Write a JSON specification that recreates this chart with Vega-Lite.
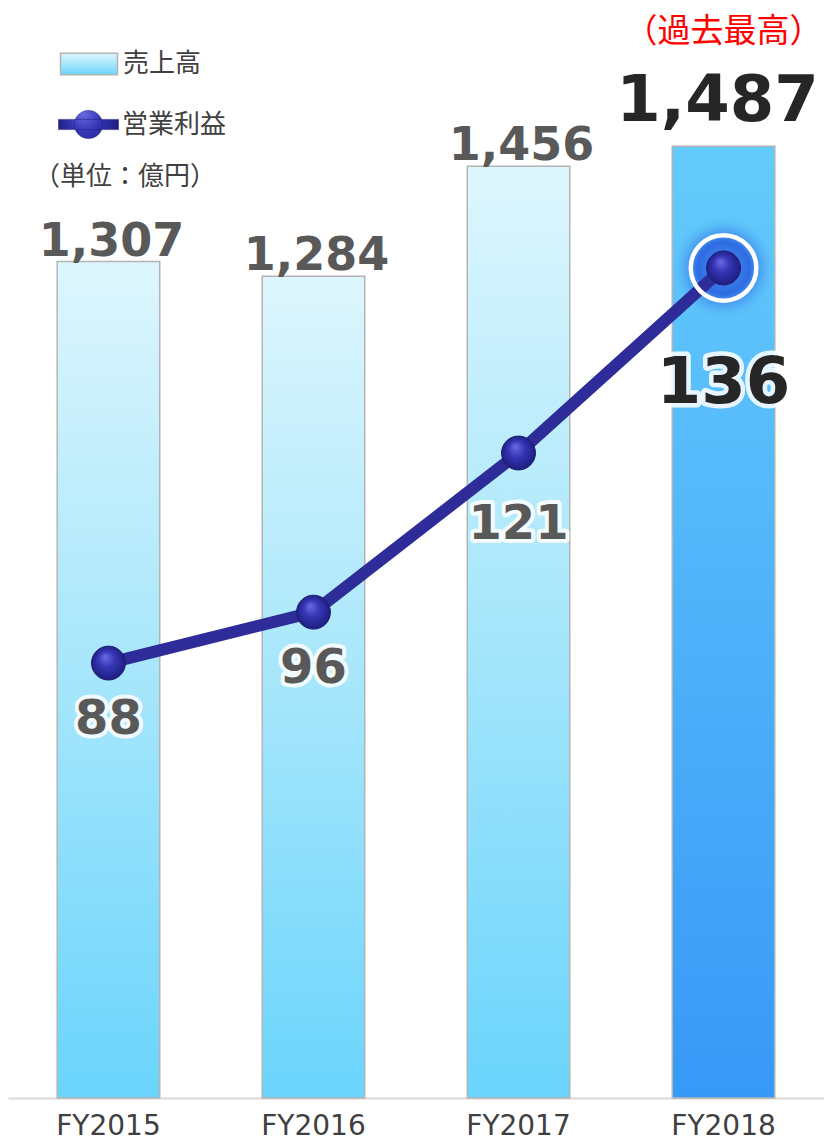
{
  "$schema": "https://vega.github.io/schema/vega-lite/v6.json",
  "autosize": "none",
  "width": 816,
  "height": 1088,
  "padding": {"left": 8, "right": 0, "top": 10, "bottom": 44},
  "background": "white",
  "title": {
    "text": "（単位：億円）",
    "anchor": "start",
    "frame": "group",
    "orient": "top",
    "offset": 0,
    "dx": 26,
    "dy": 193,
    "baseline": "middle",
    "fontSize": 26,
    "fontWeight": "normal",
    "font": "Noto Sans CJK JP",
    "color": "#404040"
  },
  "data": {
    "values": [
      {"year": "FY2015", "sales": 1307, "profit": 88},
      {"year": "FY2016", "sales": 1284, "profit": 96},
      {"year": "FY2017", "sales": 1456, "profit": 121},
      {"year": "FY2018", "sales": 1487, "profit": 136, "note": "（過去最高）"}
    ]
  },
  "encoding": {
    "x": {
      "field": "year",
      "type": "nominal",
      "sort": null,
      "scale": {"paddingInner": 0.5, "paddingOuter": 0.24},
      "axis": {
        "title": null,
        "orient": "bottom",
        "domainColor": "#D9D9D9",
        "domainWidth": 2,
        "ticks": false,
        "grid": false,
        "labelAngle": 0,
        "labelFontSize": 28,
        "labelFont": "DejaVu Sans",
        "labelColor": "#404040",
        "labelPadding": 14
      }
    }
  },
  "layer": [
    {
      "encoding": {
        "y": {
          "field": "sales",
          "type": "quantitative",
          "scale": {"domain": [0, 1700], "nice": false, "zero": true},
          "axis": null
        }
      },
      "layer": [
        {
          "transform": [{"filter": "datum.year !== 'FY2018'"}],
          "mark": {
            "type": "bar",
            "color": {
              "gradient": "linear", "x1": 0, "y1": 0, "x2": 0, "y2": 1,
              "stops": [
                {"offset": 0, "color": "#DDF6FD"},
                {"offset": 0.5, "color": "#A6E6FB"},
                {"offset": 1, "color": "#6AD4FC"}
              ]
            },
            "stroke": "#B4B4B4",
            "strokeWidth": 1.5
          },
          "encoding": {
            "opacity": {
              "datum": "売上高",
              "type": "nominal",
              "scale": {"domain": ["売上高"], "range": [1]},
              "legend": {
                "orient": "none",
                "legendX": 50,
                "legendY": 23,
                "title": null,
                "padding": 0,
                "symbolType": "M-0.95,-0.36L0.95,-0.36L0.95,0.36L-0.95,0.36Z",
                "symbolSize": 3600,
                "symbolStrokeWidth": 1.5,
                "symbolOpacity": 1,
                "labelFontSize": 26,
                "labelFont": "Noto Sans CJK JP",
                "labelColor": "#404040",
                "labelOffset": 3
              }
            }
          }
        },
        {
          "transform": [{"filter": "datum.year === 'FY2018'"}],
          "mark": {
            "type": "bar",
            "color": {
              "gradient": "linear", "x1": 0, "y1": 0, "x2": 0, "y2": 1,
              "stops": [
                {"offset": 0, "color": "#63CBFB"},
                {"offset": 0.5, "color": "#4FB2FA"},
                {"offset": 1, "color": "#3799F7"}
              ]
            },
            "stroke": "#B4B4B4",
            "strokeWidth": 1.5
          }
        },
        {
          "transform": [{"filter": "datum.year !== 'FY2018'"}],
          "mark": {"type": "text", "font": "DejaVu Sans", "fontWeight": "bold", "fontSize": 46, "color": "#595959", "baseline": "alphabetic", "dy": -6, "dx": 3},
          "encoding": {"text": {"field": "sales", "type": "quantitative", "format": ","}}
        },
        {
          "transform": [{"filter": "datum.year === 'FY2018'"}],
          "mark": {"type": "text", "font": "DejaVu Sans", "fontWeight": "bold", "fontSize": 64, "color": "#262626", "baseline": "alphabetic", "dy": -25, "dx": -6},
          "encoding": {"text": {"field": "sales", "type": "quantitative", "format": ","}}
        },
        {
          "transform": [{"filter": "datum.year === 'FY2018'"}],
          "mark": {"type": "text", "font": "Noto Sans CJK JP", "fontSize": 33, "color": "#FF0000", "baseline": "middle", "dy": -114},
          "encoding": {"text": {"field": "note", "type": "nominal"}}
        }
      ]
    },
    {
      "encoding": {
        "y": {
          "field": "profit",
          "type": "quantitative",
          "scale": {"domain": [20, 121, 136], "range": [1086, 443, 258], "nice": false, "zero": false},
          "axis": null
        }
      },
      "layer": [
        {
          "transform": [{"filter": "datum.year === 'FY2018'"}],
          "mark": {
            "type": "point", "shape": "circle", "filled": true, "size": 11000, "strokeWidth": 0, "opacity": 1,
            "fill": {
              "gradient": "radial", "x1": 0.5, "y1": 0.5, "r1": 0, "x2": 0.5, "y2": 0.5, "r2": 0.5,
              "stops": [
                {"offset": 0, "color": "#4A90F0"},
                {"offset": 0.5, "color": "#2E6BE3"},
                {"offset": 1, "color": "rgba(91,192,250,0)"}
              ]
            }
          }
        },
        {
          "mark": {"type": "line", "color": "#2E2C98", "strokeWidth": 12, "strokeCap": "round", "strokeJoin": "round"}
        },
        {
          "transform": [{"filter": "datum.year === 'FY2018'"}],
          "mark": {"type": "point", "shape": "circle", "filled": false, "size": 4300, "stroke": "white", "strokeWidth": 4.5, "opacity": 1}
        },
        {
          "mark": {
            "type": "point", "shape": "circle", "filled": true, "size": 1150,
            "stroke": "#1E1C70", "strokeWidth": 1,
            "fill": {
              "gradient": "radial", "x1": 0.4, "y1": 0.3, "r1": 0, "x2": 0.5, "y2": 0.5, "r2": 0.55,
              "stops": [
                {"offset": 0, "color": "#6B6BE6"},
                {"offset": 0.45, "color": "#3535B5"},
                {"offset": 1, "color": "#1B1A78"}
              ]
            }
          },
          "encoding": {
            "opacity": {
              "datum": "営業利益",
              "type": "nominal",
              "scale": {"domain": ["営業利益"], "range": [1]},
              "legend": {
                "orient": "none",
                "legendX": 50,
                "legendY": 84,
                "title": null,
                "padding": 0,
                "symbolType": "M-1,-0.17L1,-0.17L1,0.17L-1,0.17Z M0.47,0 A0.47,0.47 0 1,1 -0.47,0 A0.47,0.47 0 1,1 0.47,0 Z",
                "symbolSize": 3600,
                "symbolStrokeWidth": 0.5,
                "symbolOpacity": 1,
                "labelFontSize": 26,
                "labelFont": "Noto Sans CJK JP",
                "labelColor": "#404040",
                "labelOffset": 3
              }
            }
          }
        },
        {
          "transform": [{"filter": "datum.year === 'FY2015' || datum.year === 'FY2016'"}],
          "mark": {"type": "text", "font": "DejaVu Sans", "fontWeight": "bold", "fontSize": 48, "color": "white", "stroke": "white", "strokeWidth": 8, "strokeOpacity": 0.85, "strokeJoin": "round", "baseline": "middle", "dy": 57},
          "encoding": {"text": {"field": "profit", "type": "quantitative"}}
        },
        {
          "transform": [{"filter": "datum.year === 'FY2015' || datum.year === 'FY2016'"}],
          "mark": {"type": "text", "font": "DejaVu Sans", "fontWeight": "bold", "fontSize": 48, "color": "#595959", "baseline": "middle", "dy": 57},
          "encoding": {"text": {"field": "profit", "type": "quantitative"}}
        },
        {
          "transform": [{"filter": "datum.year === 'FY2017'"}],
          "mark": {"type": "text", "font": "DejaVu Sans", "fontWeight": "bold", "fontSize": 48, "color": "white", "stroke": "white", "strokeWidth": 8, "strokeOpacity": 0.85, "strokeJoin": "round", "baseline": "middle", "dy": 72},
          "encoding": {"text": {"field": "profit", "type": "quantitative"}}
        },
        {
          "transform": [{"filter": "datum.year === 'FY2017'"}],
          "mark": {"type": "text", "font": "DejaVu Sans", "fontWeight": "bold", "fontSize": 48, "color": "#595959", "baseline": "middle", "dy": 72},
          "encoding": {"text": {"field": "profit", "type": "quantitative"}}
        },
        {
          "transform": [{"filter": "datum.year === 'FY2018'"}],
          "mark": {"type": "text", "font": "DejaVu Sans", "fontWeight": "bold", "fontSize": 64, "color": "white", "stroke": "white", "strokeWidth": 9, "strokeOpacity": 0.85, "strokeJoin": "round", "baseline": "middle", "dy": 116},
          "encoding": {"text": {"field": "profit", "type": "quantitative"}}
        },
        {
          "transform": [{"filter": "datum.year === 'FY2018'"}],
          "mark": {"type": "text", "font": "DejaVu Sans", "fontWeight": "bold", "fontSize": 64, "color": "#262626", "baseline": "middle", "dy": 116},
          "encoding": {"text": {"field": "profit", "type": "quantitative"}}
        }
      ]
    }
  ],
  "resolve": {
    "scale": {"y": "independent", "opacity": "independent"},
    "legend": {"opacity": "independent"}
  },
  "config": {"view": {"stroke": null}}
}
